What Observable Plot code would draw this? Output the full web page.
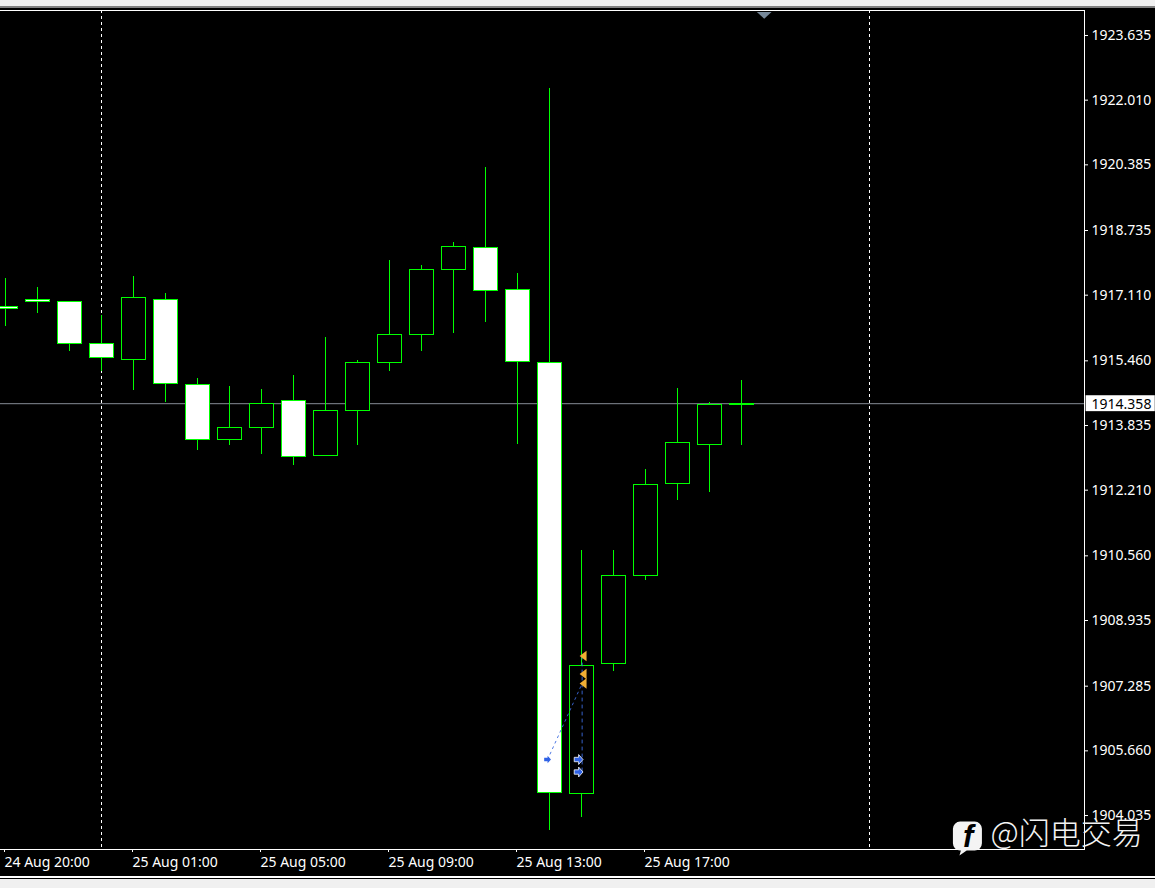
<!DOCTYPE html>
<html>
<head>
<meta charset="utf-8">
<style>
html,body{margin:0;padding:0;background:#f0f0f0;width:1155px;height:888px;overflow:hidden}
#chart{position:absolute;left:0;top:0}
.strip{position:absolute;left:0;width:1155px}
svg{display:block}
</style>
<script src="https://cdn.jsdelivr.net/npm/d3@7"></script>
<script src="https://cdn.jsdelivr.net/npm/@observablehq/plot@0.6"></script>
</head>
<body>
<div id="chart"></div>
<div class="strip" style="top:0;height:6px;background:#f0f0f0"></div>
<div class="strip" style="top:6px;height:2px;background:#808080"></div>
<div class="strip" style="top:876px;height:2px;background:#ffffff"></div>
<div class="strip" style="top:878px;height:1px;background:#000000"></div>
<div class="strip" style="top:879px;height:9px;background:#f0f0f0"></div>
<script>
const times = ["24 Aug 20:00","24 Aug 21:00","24 Aug 22:00","24 Aug 23:00","25 Aug 01:00","25 Aug 02:00","25 Aug 03:00","25 Aug 04:00","25 Aug 05:00","25 Aug 06:00","25 Aug 07:00","25 Aug 08:00","25 Aug 09:00","25 Aug 10:00","25 Aug 11:00","25 Aug 12:00","25 Aug 13:00","25 Aug 14:00","25 Aug 15:00","25 Aug 16:00","25 Aug 17:00","25 Aug 18:00","25 Aug 19:00","25 Aug 20:00"];
const opens  = [1916.800,1916.976,1916.926,1915.870,1915.468,1916.976,1914.840,1913.458,1913.760,1914.438,1913.056,1914.187,1915.393,1916.097,1917.730,1918.283,1917.227,1915.393,1904.563,1907.829,1910.041,1912.353,1913.333,1914.338];
const closes = [1916.750,1916.926,1915.870,1915.519,1917.026,1914.865,1913.458,1913.760,1914.363,1913.031,1914.187,1915.393,1916.097,1917.730,1918.308,1917.202,1915.418,1904.588,1907.779,1910.041,1912.327,1913.383,1914.338,1914.363];
const highs  = [1917.504,1917.278,1916.926,1916.574,1917.554,1917.127,1914.991,1914.790,1914.715,1915.066,1916.021,1915.443,1917.956,1917.830,1918.408,1920.293,1917.629,1922.278,1910.669,1910.669,1912.704,1914.740,1914.388,1914.941];
const lows   = [1916.298,1916.624,1915.669,1915.167,1914.689,1914.388,1913.182,1913.307,1913.081,1912.805,1913.056,1913.307,1915.167,1915.669,1916.122,1916.398,1913.333,1903.633,1903.960,1907.628,1909.915,1911.925,1912.126,1913.307];
const priceTicks = [1923.635,1922.010,1920.385,1918.735,1917.110,1915.460,1913.835,1912.210,1910.560,1908.935,1907.285,1905.660,1904.035];
const timeTickBars = [0,4,8,12,16,20];
const separatorBars = [3,27];
const currentPrice = 1914.358;
const sellMarks = [1908.018,1907.566,1907.327];
const buyMarks = [1905.417,1905.103];
const entryPrice = 1905.417;
const tradeBar = 18.02;
const entryBar = 16.94;
const watermark = "@闪电交易";

const bars = times.map((t,i)=>({i,t,o:opens[i],c:closes[i],h:highs[i],l:lows[i]}));
const ink = "#00ff00";
const font = "'Noto Sans', sans-serif";

const arrow = {draw(ctx,size){
  const s = Math.sqrt(size/Math.PI)/4;
  ctx.moveTo(-4*s,-2*s);ctx.lineTo(0,-2*s);ctx.lineTo(0,-4.5*s);ctx.lineTo(4*s,0);
  ctx.lineTo(0,4.5*s);ctx.lineTo(0,2*s);ctx.lineTo(-4*s,2*s);ctx.closePath();
}};
const leftTriangle = {draw(ctx,size){
  const s = Math.sqrt(size/Math.PI)/4;
  ctx.moveTo(-3*s,0);ctx.lineTo(3*s,-4.5*s);ctx.lineTo(3*s,4.5*s);ctx.closePath();
}};
const badge = {draw(ctx,size){
  const s = Math.sqrt(size/Math.PI), r = s*0.5;
  ctx.moveTo(-s+r,-s);ctx.lineTo(s-r,-s);ctx.arcTo(s,-s,s,-s+r,r);ctx.lineTo(s,s-r);ctx.arcTo(s,s,s-r,s,r);
  ctx.lineTo(-s*0.05,s);ctx.lineTo(-s*0.55,s*1.35);ctx.lineTo(-s*0.45,s);
  ctx.lineTo(-s+r,s);ctx.arcTo(-s,s,-s,s-r,r);ctx.lineTo(-s,-s+r);ctx.arcTo(-s,-s,-s+r,-s,r);ctx.closePath();
}};

const chart = Plot.plot({
  width:1155,height:888,
  marginLeft:0,marginRight:71,marginTop:10,marginBottom:39,
  style:{background:"#000",color:"#fff",fontFamily:font,fontSize:"14px",overflow:"visible"},
  x:{type:"linear",domain:[-0.15625,33.71875],axis:null},
  y:{type:"linear",domain:[1924.238,1903.156].reverse(),axis:null},
  marks:[
    Plot.ruleX(separatorBars,{x:d=>d,stroke:"#fff",strokeDasharray:"3,3"}),
    Plot.ruleY([currentPrice],{y:d=>d,stroke:"#858c96"}),
    Plot.ruleX(bars,{x:"i",y1:"l",y2:"h",stroke:ink,shapeRendering:"crispEdges"}),
    Plot.rect(bars,{x1:d=>d.i-0.375,x2:d=>d.i+0.375,y1:"o",y2:"c",dx:0.5,dy:0.5,
      fill:d=>d.c<d.o?"#fff":"#000",stroke:ink,shapeRendering:"crispEdges"}),
    Plot.line([[entryBar,entryPrice],[tradeBar,sellMarks[2]]],{x:d=>d[0],y:d=>d[1],stroke:"#3c6be0",strokeWidth:0.9,strokeDasharray:"2,4"}),
    Plot.line([[tradeBar,sellMarks[0]],[tradeBar,buyMarks[1]]],{x:d=>d[0],y:d=>d[1],stroke:"#3c6be0",strokeWidth:0.9,strokeDasharray:"3,4"}),
    Plot.dot(sellMarks,{x:()=>18.05,y:d=>d,symbol:leftTriangle,r:4.6,fill:"#f0ae34"}),
    Plot.dot(buyMarks,{x:()=>17.91,y:d=>d,symbol:arrow,r:4.4,fill:"#2f62e6",stroke:"#fff",strokeWidth:0.8}),
    Plot.dot([entryPrice],{x:()=>entryBar,y:d=>d,symbol:arrow,r:3.4,fill:"#2f62e6"}),
    Plot.frame({anchor:"top",stroke:"#fff"}),
    Plot.frame({anchor:"right",stroke:"#fff"}),
    Plot.frame({anchor:"bottom",stroke:"#fff"}),
    Plot.line([[23.48,1924.2],[23.94,1924.2],[23.71,1924.03]],{x:d=>d[0],y:d=>d[1],fill:"#778899",stroke:"none"}),
    Plot.axisY(priceTicks,{anchor:"right",label:null,tickSize:3,tickPadding:4,dy:1,stroke:"#fff",fill:"#fff",tickFormat:d=>d.toFixed(3),fontSize:14}),
    Plot.axisX(timeTickBars,{anchor:"bottom",label:null,tickSize:3,tickPadding:5,dx:-1,stroke:"#fff",fill:"#fff",tickFormat:i=>times[i],textAnchor:"start",fontSize:14}),
    Plot.rect([currentPrice],{x1:()=>33.77,x2:()=>35.93,y1:d=>d-0.2,y2:d=>d+0.2,fill:"#fff"}),
    Plot.text([currentPrice],{x:()=>33.94,y:d=>d,dy:1,text:d=>d.toFixed(3),textAnchor:"start",fill:"#000",fontSize:14}),
    Plot.dot([1903.495],{x:()=>30.06,y:d=>d,symbol:badge,r:14.5,fill:"#f4f4f4"}),
    Plot.text(["f"],{x:()=>30.08,y:()=>1903.47,text:d=>d,fill:"#000",fontSize:31,fontWeight:"bold",fontStyle:"italic",fontFamily:"'Liberation Sans',sans-serif"}),
    Plot.text([watermark],{x:()=>30.78,y:()=>1903.545,text:d=>d,textAnchor:"start",fill:"#f4f4f4",fontSize:31,fontWeight:300,fontFamily:"'Noto Sans CJK SC',sans-serif"})
  ]
});
document.getElementById("chart").appendChild(chart);
</script>
</body>
</html>
